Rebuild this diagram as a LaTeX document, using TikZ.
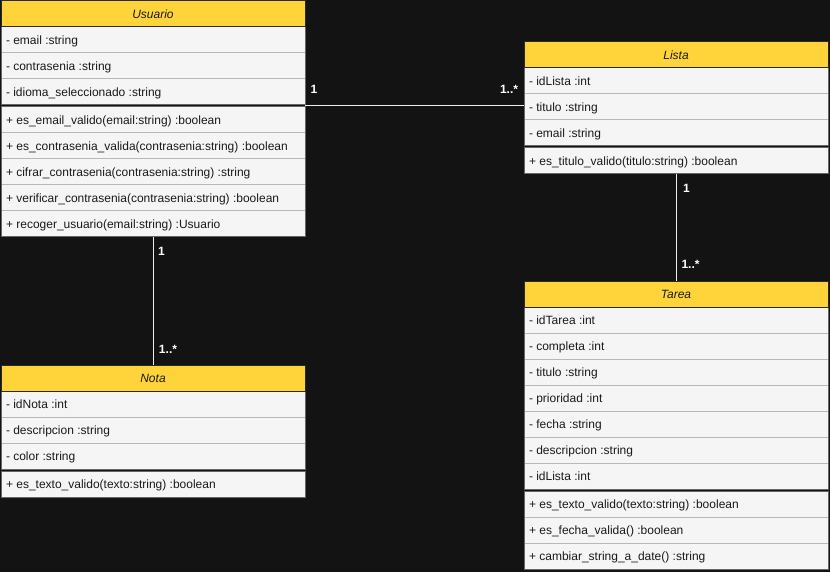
\documentclass[tikz,border=0pt]{standalone}
\usepackage{fontspec}
\setmainfont{Liberation Sans}
\definecolor{bg}{HTML}{131313}
\definecolor{hdrfill}{HTML}{FFD43B}
\definecolor{hdrline}{HTML}{2A2A2A}
\definecolor{rowfill}{HTML}{F5F5F5}
\definecolor{rowline}{HTML}{666666}
\definecolor{divline}{HTML}{B8B8B8}
\definecolor{txt}{HTML}{1A1A1A}
\definecolor{wire}{HTML}{EEEEEE}

% One UML class box: #1 name, #2 left x, #3 top y, #4 title,
% #5 attribute list, #6 operation list
\newcommand\umlclass[6]{%
  \foreach \t [count=\i] in {#5} {\xdef\nattr{\i}}%
  \foreach \t [count=\i] in {#6} {\xdef\nmeth{\i}}%
  \pgfmathsetmacro\ya{#3+26}%
  \pgfmathsetmacro\yb{\ya+26*\nattr}%
  \pgfmathsetmacro\yc{\yb+2}%
  \pgfmathsetmacro\yd{\yc+26*\nmeth}%
  \pgfmathsetmacro\xr{#2+304}%
  \pgfmathsetmacro\hh{\yd-#3}%
  \node[classframe, minimum width=304pt, minimum height=\hh pt, anchor=north west] (#1) at (#2,#3) {};
  \coordinate (#1-sep) at (#2+152,\yb+1);
  % attributes
  \fill[rowfill] (#2,\ya) rectangle (\xr,\yb);
  \foreach \t [count=\i] in {#5} {%
    \ifnum\i>1 \draw[divider] (#2,\ya+26*\i-26) -- (\xr,\ya+26*\i-26);\fi
    \node[rowtext, anchor=base west] (#1-a\i) at (#2+5,\ya+26*\i-8.5) {\t};
  }
  \draw[rowborder] (#2,\ya) rectangle (\xr,\yb);
  % operations
  \fill[rowfill] (#2,\yc) rectangle (\xr,\yd);
  \foreach \t [count=\i] in {#6} {%
    \ifnum\i>1 \draw[divider] (#2,\yc+26*\i-26) -- (\xr,\yc+26*\i-26);\fi
    \node[rowtext, anchor=base west] (#1-m\i) at (#2+5,\yc+26*\i-8.5) {\t};
  }
  \draw[rowborder] (#2,\yc) rectangle (\xr,\yd);
  % title bar
  \node[classhead, minimum width=304pt, minimum height=26pt, anchor=north west] (#1-head) at (#2,#3) {#4};
}

\begin{document}
\begin{tikzpicture}[x=1pt,y=-1pt,
  every node/.style={inner sep=0pt, outer sep=0pt, font=\fontsize{12}{14}\selectfont},
  classframe/.style={draw=none, rectangle},
  classhead/.style={draw=hdrline, fill=hdrfill, line width=1pt, text=txt,
    font=\fontsize{12}{14}\selectfont\itshape, text height=8.6pt, text depth=0pt},
  rowtext/.style={text=txt},
  rowborder/.style={draw=rowline, line width=1pt},
  divider/.style={draw=divline, line width=1pt},
  assoc/.style={draw=wire, line width=1pt},
  mult/.style={text=white, font=\fontsize{12}{14}\selectfont\bfseries, anchor=base}
]
\fill[bg] (0,0) rectangle (830,572);
\useasboundingbox (0,0) rectangle (830,572);

\umlclass{usuario}{1}{1}{Usuario}
  {- email :string, - contrasenia :string, - idioma\_seleccionado :string}
  {+ es\_email\_valido(email:string) :boolean,
   + es\_contrasenia\_valida(contrasenia:string) :boolean,
   + cifrar\_contrasenia(contrasenia:string) :string,
   + verificar\_contrasenia(contrasenia:string) :boolean,
   + recoger\_usuario(email:string) :Usuario}

\umlclass{lista}{524}{42}{Lista}
  {- idLista :int, - titulo :string, - email :string}
  {+ es\_titulo\_valido(titulo:string) :boolean}

\umlclass{nota}{1}{365}{Nota}
  {- idNota :int, - descripcion :string, - color :string}
  {+ es\_texto\_valido(texto:string) :boolean}

\umlclass{tarea}{524}{281}{Tarea}
  {- idTarea :int, - completa :int, - titulo :string, - prioridad :int,
   - fecha :string, - descripcion :string, - idLista :int}
  {+ es\_texto\_valido(texto:string) :boolean,
   + es\_fecha\_valida() :boolean,
   + cambiar\_string\_a\_date() :string}

% associations
\draw[assoc] (usuario-sep -| usuario.east) -- (usuario-sep -| lista.west);
\draw[assoc] (usuario.south) -- (nota.north);
\draw[assoc] (lista.south) -- (tarea.north);

% multiplicities
\node[mult] (m-ul-1) at (314,94) {1};
\node[mult] (m-ul-2) at (509,94) {1..*};
\node[mult] (m-un-1) at (161.5,255) {1};
\node[mult] (m-un-2) at (168,353) {1..*};
\node[mult] (m-lt-1) at (686.5,193) {1};
\node[mult] (m-lt-2) at (690.5,269) {1..*};
\end{tikzpicture}
\end{document}
